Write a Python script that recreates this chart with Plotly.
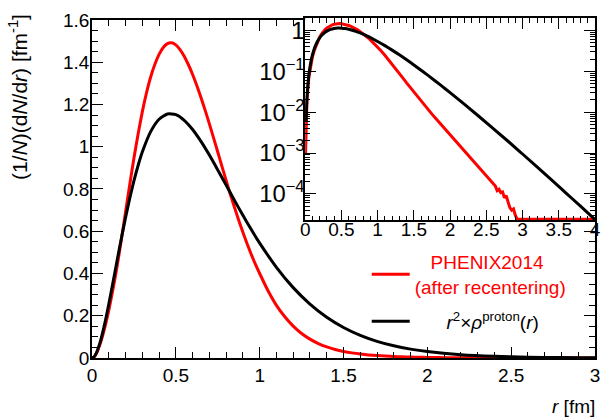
import plotly.graph_objects as go

# ---------------- data ----------------
# PHENIX2014 (after recentering) histogram, (1/N)(dN/dr) [fm^-1]
r_red = [0.0, 0.005, 0.0125, 0.025, 0.05, 0.075, 0.1, 0.125, 0.15, 0.175, 0.2, 0.225, 0.25,
         0.275, 0.3, 0.325, 0.35, 0.375, 0.4, 0.425, 0.45, 0.475, 0.5, 0.525, 0.55, 0.575,
         0.6, 0.625, 0.65, 0.675, 0.7, 0.725, 0.75, 0.775, 0.8, 0.825, 0.85, 0.875, 0.9,
         0.925, 0.95, 0.975, 1.0, 1.05, 1.1, 1.15, 1.2, 1.25, 1.3, 1.35, 1.4, 1.45, 1.5,
         1.55, 1.6, 1.65, 1.7, 1.75, 1.8, 1.85, 1.9, 1.95, 2.0, 2.05, 2.1, 2.15, 2.2, 2.25,
         2.3, 2.35, 2.4, 2.45, 2.5, 2.55, 2.6, 2.625, 2.65, 2.675, 2.7, 2.725, 2.75, 2.775,
         2.8, 2.825, 2.85, 2.875, 2.9, 2.925, 2.95, 3.0, 3.25, 3.5, 3.75, 4.0]
red = [0.0, 0.0009, 0.005, 0.020, 0.070, 0.140, 0.225, 0.325, 0.435, 0.560, 0.690, 0.820, 0.945,
       1.060, 1.165, 1.255, 1.330, 1.390, 1.437, 1.470, 1.488, 1.492, 1.482, 1.460, 1.428, 1.388,
       1.342, 1.290, 1.233, 1.172, 1.108, 1.042, 0.975, 0.907, 0.840, 0.775, 0.712, 0.652, 0.595,
       0.541, 0.490, 0.443, 0.400, 0.318, 0.249, 0.195, 0.151, 0.116, 0.0893, 0.0685, 0.0526,
       0.0405, 0.0312, 0.0242, 0.0188, 0.0146, 0.0115, 0.0090, 0.00713, 0.00566, 0.00450,
       0.00357, 0.00284, 0.00225, 0.00179, 0.00142, 0.00113, 0.000897, 0.000713, 0.000566,
       0.000450, 0.000357, 0.000284, 0.000225, 0.000179, 0.000155, 0.000120, 0.000130,
       0.000108, 0.000112, 0.000080, 0.000090, 0.000064, 0.000046, 0.000040, 0.000043,
       0.000030, 0.000024, 0.0, 0.0, 0.0, 0.0, 0.0, 0.0]

# r^2 x rho_proton(r)
r_black = [0.0, 0.0125, 0.025, 0.05, 0.075, 0.1, 0.125, 0.15, 0.175, 0.2, 0.225, 0.25, 0.275,
           0.3, 0.35, 0.4, 0.45, 0.5, 0.55, 0.6, 0.65, 0.7, 0.75, 0.8, 0.85, 0.9, 0.95, 1.0,
           1.1, 1.2, 1.3, 1.4, 1.5, 1.6, 1.7, 1.8, 1.9, 2.0, 2.2, 2.4, 2.6, 2.8, 3.0, 3.2,
           3.4, 3.6, 3.8, 4.0]
black = [0.0, 0.0058, 0.0219, 0.0788, 0.1593, 0.2546, 0.357, 0.4626, 0.5658, 0.664, 0.7553,
         0.838, 0.9111, 0.9746, 1.0713, 1.1301, 1.155, 1.1518, 1.125, 1.0815, 1.0252, 0.9603,
         0.8903, 0.8182, 0.7458, 0.6753, 0.6078, 0.5439, 0.4293, 0.3331, 0.255, 0.1928, 0.1444,
         0.1071, 0.0789, 0.0577, 0.0419, 0.0303, 0.0156, 0.00789, 0.00394, 0.00195, 0.00095,
         0.00046, 0.000221, 0.000105, 0.0000499, 0.0000235]

main_x_ticks = [0, 0.5, 1, 1.5, 2, 2.5, 3]
main_y_ticks = [0, 0.2, 0.4, 0.6, 0.8, 1, 1.2, 1.4, 1.6]
inset_x_ticks = [0, 0.5, 1, 1.5, 2, 2.5, 3, 3.5, 4]

# ---------------- layout constants ----------------
W, H = 609, 419
ML, MR, MT, MB = 92, 8, 12, 61
PW, PH = W - ML - MR, H - MT - MB
LOG_MIN, LOG_MAX = -4.65, 0.31
FONT = "Liberation Sans, Arial, Helvetica, sans-serif"


def px_x(p):
    return (p - ML) / PW


def px_y(p):
    return (H - MB - p) / PH


RED = "#ff0000"
BLACK = "#000000"

fig = go.Figure()

# main panel
fig.add_trace(go.Scatter(
    x=r_red, y=red, mode="lines", line=dict(color=RED, width=3, shape="spline", smoothing=0.6),
    name='<span style="color:#ff0000">&nbsp;&nbsp;&nbsp;PHENIX2014</span><br>'
         '<span style="color:#ff0000">(after recentering)</span>',
    legendgroup="a", xaxis="x", yaxis="y"))
fig.add_trace(go.Scatter(
    x=r_black, y=black, mode="lines", line=dict(color=BLACK, width=3, shape="spline", smoothing=0.6),
    name='&nbsp;&nbsp;&nbsp;&nbsp;&nbsp;&nbsp;<i>r</i><sup>2</sup>×<i>ρ</i><sup>proton</sup>(<i>r</i>)',
    legendgroup="b", xaxis="x", yaxis="y"))

# inset (log) panel; empty bins are drawn on the lower frame as in the reference
floor = 10 ** (LOG_MIN + 0.03)
ri = [r for r in r_red if r > 0]
yi = [max(v, floor) for r, v in zip(r_red, red) if r > 0]
fig.add_trace(go.Scatter(x=ri, y=yi, mode="lines", line=dict(color=RED, width=3),
                         showlegend=False, xaxis="x2", yaxis="y2"))
rb = [r for r in r_black if r > 0]
yb = [v for r, v in zip(r_black, black) if r > 0]
fig.add_trace(go.Scatter(x=rb, y=yb, mode="lines", line=dict(color=BLACK, width=3, shape="spline"),
                         showlegend=False, xaxis="x2", yaxis="y2"))

axis_common = dict(showline=True, linecolor="black", linewidth=1.5, mirror="ticks",
                   ticks="inside", ticklen=11, tickwidth=1.3, tickcolor="black",
                   showgrid=False, zeroline=False, tickfont=dict(family=FONT, size=19, color="black"))

fig.update_layout(
    width=W, height=H,
    margin=dict(l=ML, r=MR, t=MT, b=MB, pad=0),
    paper_bgcolor="white", plot_bgcolor="white",
    font=dict(family=FONT, size=19, color="black"),
    xaxis=dict(domain=[0, 1], range=[0, 3], anchor="y", tickvals=main_x_ticks,
               ticktext=[f"{t:g}" for t in main_x_ticks], ticklabelstandoff=-1,
               minor=dict(dtick=0.1, tick0=0, ticks="inside", ticklen=6, tickcolor="black"),
               **axis_common),
    yaxis=dict(domain=[0, px_y(14)], range=[0, 1.6], anchor="x", tickvals=main_y_ticks,
               ticktext=[f"{t:g}" for t in main_y_ticks], ticklabelstandoff=-3,
               minor=dict(dtick=0.05, tick0=0, ticks="inside", ticklen=6, tickcolor="black"),
               **axis_common),
    xaxis2=dict(domain=[px_x(307.7), 1], range=[0, 4], anchor="y2", tickvals=inset_x_ticks,
                ticktext=[f"{t:g}" for t in inset_x_ticks], ticklabelstandoff=-9,
                minor=dict(dtick=0.1, tick0=0, ticks="inside", ticklen=5, tickcolor="black"),
                **axis_common),
    yaxis2=dict(domain=[px_y(218), 1], type="log", range=[LOG_MIN, LOG_MAX], anchor="x2",
                dtick=1, exponentformat="power", ticklabelstandoff=-5,
                minor=dict(dtick="D1", ticks="inside", ticklen=5, tickcolor="black"),
                **axis_common),
    legend=dict(x=px_x(370), y=px_y(241), xanchor="left", yanchor="top",
                bgcolor="rgba(0,0,0,0)", font=dict(family=FONT, size=19),
                itemwidth=38, traceorder="grouped", tracegroupgap=7),
    annotations=[
        dict(text="(1/<i>N</i>)(d<i>N</i>/d<i>r</i>) [fm<sup>-1</sup>]", textangle=-90,
             xref="paper", yref="paper", x=px_x(17), y=px_y(6), xanchor="center", yanchor="top",
             showarrow=False, font=dict(family=FONT, size=21, color="black")),
        dict(text="<i>r</i> [fm]", xref="paper", yref="paper", x=px_x(603), y=px_y(407),
             xanchor="right", yanchor="middle", showarrow=False,
             font=dict(family=FONT, size=19, color="black")),
    ],
)

fig.write_html("out.html")
